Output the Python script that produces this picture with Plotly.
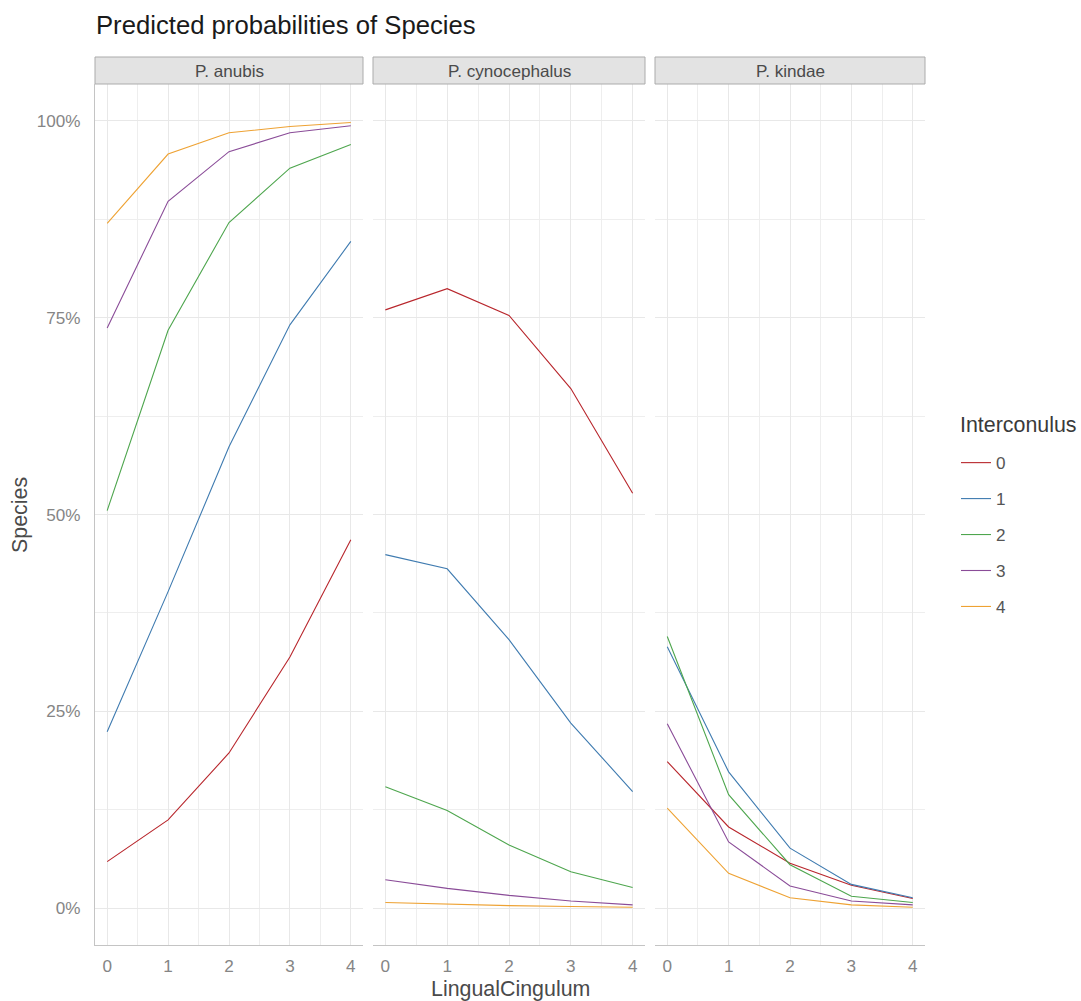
import plotly.graph_objects as go

# Predicted probabilities by species, lingual cingulum score and interconulus level
lingual_cingulum = [0, 1, 2, 3, 4]
species = ["P. anubis", "P. cynocephalus", "P. kindae"]
interconulus_levels = ["0", "1", "2", "3", "4"]

anubis_0 = [0.059, 0.112, 0.197, 0.319, 0.468]
anubis_1 = [0.224, 0.402, 0.586, 0.741, 0.847]
anubis_2 = [0.505, 0.734, 0.871, 0.940, 0.970]
anubis_3 = [0.737, 0.898, 0.961, 0.985, 0.994]
anubis_4 = [0.870, 0.958, 0.985, 0.993, 0.998]

cynocephalus_0 = [0.760, 0.787, 0.753, 0.660, 0.527]
cynocephalus_1 = [0.449, 0.431, 0.341, 0.235, 0.148]
cynocephalus_2 = [0.154, 0.124, 0.080, 0.046, 0.026]
cynocephalus_3 = [0.036, 0.025, 0.016, 0.009, 0.004]
cynocephalus_4 = [0.007, 0.005, 0.003, 0.002, 0.001]

kindae_0 = [0.186, 0.103, 0.057, 0.029, 0.012]
kindae_1 = [0.332, 0.173, 0.076, 0.030, 0.013]
kindae_2 = [0.345, 0.144, 0.055, 0.015, 0.007]
kindae_3 = [0.234, 0.084, 0.028, 0.009, 0.004]
kindae_4 = [0.127, 0.044, 0.013, 0.004, 0.001]

panel_values = [
    [anubis_0, anubis_1, anubis_2, anubis_3, anubis_4],
    [cynocephalus_0, cynocephalus_1, cynocephalus_2, cynocephalus_3, cynocephalus_4],
    [kindae_0, kindae_1, kindae_2, kindae_3, kindae_4],
]

y_tick_vals = [0, 0.25, 0.5, 0.75, 1.0]
y_tick_text = ["0%", "25%", "50%", "75%", "100%"]

level_colors = ["#b8262c", "#3f7bb0", "#4ea64e", "#8a4c98", "#eea233"]

W, H = 1081, 1001
FONT = "Liberation Sans, Arial, sans-serif"
BASE = 21.4                 # base text size in px
SMALL = BASE * 0.8          # tick labels, strip text, legend labels
TITLE = BASE * 1.2          # plot title

# panel pixel extents (left, right), shared top/bottom
panel_px = [(95, 363), (373, 645), (655, 925)]
top_px, bottom_px = 84, 945
strip_top_px = 57

def px_x(p):
    return p / W

def px_y(p):
    return (H - p) / H

fig = go.Figure()

for i, series_list in enumerate(panel_values):
    suffix = "" if i == 0 else str(i + 1)
    for j, vals in enumerate(series_list):
        fig.add_trace(go.Scatter(
            x=lingual_cingulum, y=vals, mode="lines",
            line=dict(color=level_colors[j], width=1.1),
            name=interconulus_levels[j],
            legendgroup=interconulus_levels[j],
            showlegend=(i == 0),
            xaxis="x" + suffix, yaxis="y" + suffix,
            hoverinfo="x+y",
        ))

grid_major = "#e8e8e8"
grid_minor = "#eeeeee"
axis_line = "#c4c4c4"
tick_font = dict(family=FONT, size=SMALL, color="#858585")

layout = dict(
    width=W, height=H,
    margin=dict(l=0, r=0, t=0, b=0),
    paper_bgcolor="white", plot_bgcolor="white",
    showlegend=True,
    legend=dict(
        x=px_x(956), y=px_y(445), xanchor="left", yanchor="top",
        font=dict(family=FONT, size=SMALL, color="#555555"),
        tracegroupgap=10.7, itemwidth=30,
        bgcolor="rgba(0,0,0,0)",
    ),
)

for i, (l, r) in enumerate(panel_px):
    suffix = "" if i == 0 else str(i + 1)
    layout["xaxis" + suffix] = dict(
        domain=[px_x(l), px_x(r)], anchor="y" + suffix,
        range=[-0.2, 4.2], tickvals=lingual_cingulum,
        ticks="outside", ticklen=5, tickcolor="rgba(0,0,0,0)",
        tickfont=tick_font,
        showgrid=True, gridcolor=grid_major, gridwidth=1,
        minor=dict(dtick=0.5, tick0=0, showgrid=True, gridcolor=grid_minor, gridwidth=1),
        showline=True, linecolor=axis_line, linewidth=1,
        zeroline=False, fixedrange=True,
    )
    layout["yaxis" + suffix] = dict(
        domain=[px_y(bottom_px), px_y(top_px)], anchor="x" + suffix,
        range=[-0.047, 1.047], tickvals=y_tick_vals, ticktext=y_tick_text,
        showticklabels=(i == 0),
        ticks="outside" if i == 0 else "", ticklen=10, tickcolor="rgba(0,0,0,0)",
        tickfont=tick_font,
        showgrid=True, gridcolor=grid_major, gridwidth=1,
        minor=dict(dtick=0.125, tick0=0, showgrid=True, gridcolor=grid_minor, gridwidth=1),
        showline=(i == 0), linecolor=axis_line, linewidth=1,
        zeroline=False, fixedrange=True,
    )

shapes = []
annotations = []
for i, (l, r) in enumerate(panel_px):
    shapes.append(dict(
        type="rect", xref="paper", yref="paper",
        x0=px_x(l), x1=px_x(r), y0=px_y(top_px), y1=px_y(strip_top_px),
        fillcolor="#e3e3e3", line=dict(color="#ababab", width=1), layer="above",
    ))
    annotations.append(dict(
        xref="paper", yref="paper", x=px_x((l + r) / 2), y=px_y((top_px + strip_top_px) / 2 + 1),
        text=species[i], showarrow=False, xanchor="center", yanchor="middle",
        font=dict(family=FONT, size=SMALL, color="#4a4a4a"),
    ))

# legend heading
annotations.append(dict(
    xref="paper", yref="paper", x=px_x(958), y=px_y(425),
    text="Interconulus", showarrow=False, xanchor="left", yanchor="middle",
    font=dict(family=FONT, size=BASE, color="#3a3a3a"),
))
annotations.append(dict(
    xref="paper", yref="paper", x=px_x(94), y=px_y(25),
    text="Predicted probabilities of Species", showarrow=False,
    xanchor="left", yanchor="middle",
    font=dict(family=FONT, size=TITLE, color="#1a1a1a"),
))
annotations.append(dict(
    xref="paper", yref="paper", x=px_x(510), y=px_y(989),
    text="LingualCingulum", showarrow=False, xanchor="center", yanchor="middle",
    font=dict(family=FONT, size=BASE, color="#4a4a4a"),
))
annotations.append(dict(
    xref="paper", yref="paper", x=px_x(20), y=px_y(515),
    text="Species", showarrow=False, textangle=-90,
    xanchor="center", yanchor="middle",
    font=dict(family=FONT, size=BASE, color="#4a4a4a"),
))

layout["shapes"] = shapes
layout["annotations"] = annotations
fig.update_layout(**layout)

fig.write_html("out.html")
